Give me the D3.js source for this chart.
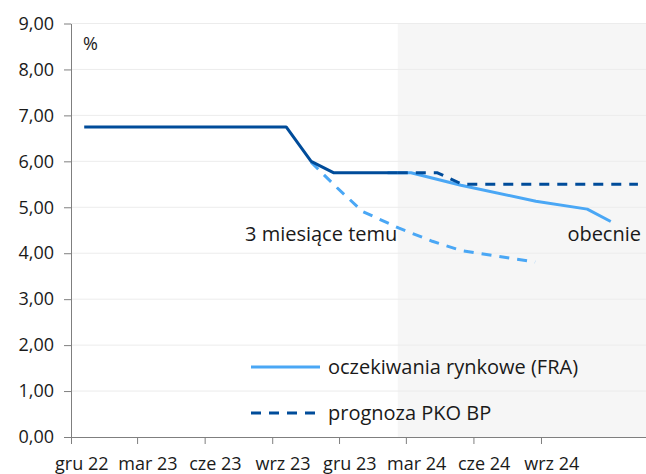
<!DOCTYPE html>
<html>
<head>
<meta charset="utf-8">
<script src="https://cdn.jsdelivr.net/npm/d3@7"></script>
<style>
  body { margin: 0; background: #fff; }
  svg text { font-family: "Open Sans", sans-serif; font-size: 18px; fill: #1a1a1a; }
  svg text.note { font-size: 20px; }
</style>
</head>
<body>
<div id="chart"></div>
<script>
// x axis ticks (quarterly) and their labels
const tickDates = ["2022-12-01", "2023-03-01", "2023-06-01", "2023-09-01", "2023-12-01", "2024-03-01", "2024-06-01", "2024-09-01"];
const tickLabels = ["gru 22", "mar 23", "cze 23", "wrz 23", "gru 23", "mar 24", "cze 24", "wrz 24"];
const yTicks = [0, 1, 2, 3, 4, 5, 6, 7, 8, 9];

// NBP reference rate (actual)
const rateDates = ["2022-12-19", "2023-09-20", "2023-10-24", "2023-11-24", "2024-02-19"];
const rateValues = [6.75, 6.75, 6.00, 5.75, 5.75];

// prognoza PKO BP
const forecastDates = ["2024-02-19", "2024-04-13", "2024-05-17", "2025-01-11"];
const forecastValues = [5.75, 5.75, 5.50, 5.50];

// oczekiwania rynkowe (FRA) - obecnie
const fraNowDates = ["2024-02-05", "2024-03-08", "2024-05-15", "2024-08-25", "2024-11-03", "2024-12-05"];
const fraNowValues = [5.75, 5.75, 5.48, 5.13, 4.96, 4.69];

// oczekiwania rynkowe (FRA) - 3 miesiace temu
const fra3mDates = ["2023-10-24", "2023-11-28", "2024-01-02", "2024-02-20", "2024-04-06", "2024-05-15", "2024-08-24"];
const fra3mValues = [5.98, 5.43, 4.91, 4.55, 4.26, 4.06, 3.81];

const forecastStart = "2024-02-19";
const domainEnd = "2025-01-22";

const parse = d3.timeParse("%Y-%m-%d");

const W = 646, H = 474;
const mLeft = 71, mRight = 646, mTop = 23.5, mBottom = 437;

const colDark = "#004c9a";
const colLight = "#4aa7f5";

const svg = d3.select("#chart").append("svg")
  .attr("width", W)
  .attr("height", H);

const x = d3.scaleTime()
  .domain([parse(tickDates[0]), parse(domainEnd)])
  .range([mLeft, mRight]);

const y = d3.scaleLinear()
  .domain([0, 9])
  .range([mBottom, mTop]);

// shaded forecast area
svg.append("rect")
  .attr("x", x(parse(forecastStart)))
  .attr("y", y(9))
  .attr("width", x(parse(domainEnd)) - x(parse(forecastStart)))
  .attr("height", y(0) - y(9))
  .attr("fill", "#f6f6f6");

// gridlines
svg.append("g")
  .selectAll("line")
  .data(yTicks.slice(1))
  .enter().append("line")
  .attr("x1", mLeft)
  .attr("x2", mRight)
  .attr("y1", d => y(d))
  .attr("y2", d => y(d))
  .attr("stroke", "#ececec")
  .attr("stroke-width", 1);

// axes
const yAxis = svg.append("g")
  .attr("transform", `translate(${mLeft},0)`)
  .call(d3.axisLeft(y)
    .tickValues(yTicks)
    .tickSize(7)
    .tickSizeOuter(0)
    .tickPadding(10)
    .tickFormat(d => d.toFixed(2).replace(".", ",")));

const labelShift = x(parse("2022-12-15")) - x(parse("2022-12-01"));
const xAxis = svg.append("g")
  .attr("transform", `translate(0,${mBottom})`)
  .call(d3.axisBottom(x)
    .tickValues(tickDates.map(parse))
    .tickSize(7)
    .tickSizeOuter(0)
    .tickPadding(13)
    .tickFormat((d, i) => tickLabels[i]));
xAxis.selectAll("text").attr("x", labelShift);

[xAxis, yAxis].forEach(a => {
  a.selectAll("path, line").attr("stroke", "#7f7f7f");
  a.selectAll("text").attr("fill", "#1a1a1a").style("font-size", "18px");
});

const line = d3.line()
  .x(d => x(parse(d[0])))
  .y(d => y(d[1]));

function drawLine(dates, values, color, dash) {
  svg.append("path")
    .datum(d3.zip(dates, values))
    .attr("d", line)
    .attr("fill", "none")
    .attr("stroke", color)
    .attr("stroke-width", 3)
    .attr("stroke-linejoin", "round")
    .attr("stroke-dasharray", dash);
}

drawLine(fra3mDates, fra3mValues, colLight, "10,8");
drawLine(fraNowDates, fraNowValues, colLight, null);
drawLine(rateDates, rateValues, colDark, null);
drawLine(forecastDates, forecastValues, colDark, "10,8");

// annotations
svg.append("text").attr("x", 83).attr("y", 50).text("%");
svg.append("text").attr("class", "note").attr("x", 245).attr("y", 241).text("3 miesiące temu");
svg.append("text").attr("class", "note").attr("x", 641).attr("y", 241)
  .attr("text-anchor", "end").text("obecnie");

// legend
const legend = svg.append("g");
const legendItems = [
  { label: "oczekiwania rynkowe (FRA)", color: colLight, dash: null, y: 367 },
  { label: "prognoza PKO BP", color: colDark, dash: "10,8", y: 413 }
];
legendItems.forEach(item => {
  legend.append("line")
    .attr("x1", 251).attr("x2", 320)
    .attr("y1", item.y).attr("y2", item.y)
    .attr("stroke", item.color)
    .attr("stroke-width", 3)
    .attr("stroke-dasharray", item.dash);
  legend.append("text")
    .attr("class", "note")
    .attr("x", 328)
    .attr("y", item.y)
    .attr("dy", "0.35em")
    .text(item.label);
});
</script>
</body>
</html>
